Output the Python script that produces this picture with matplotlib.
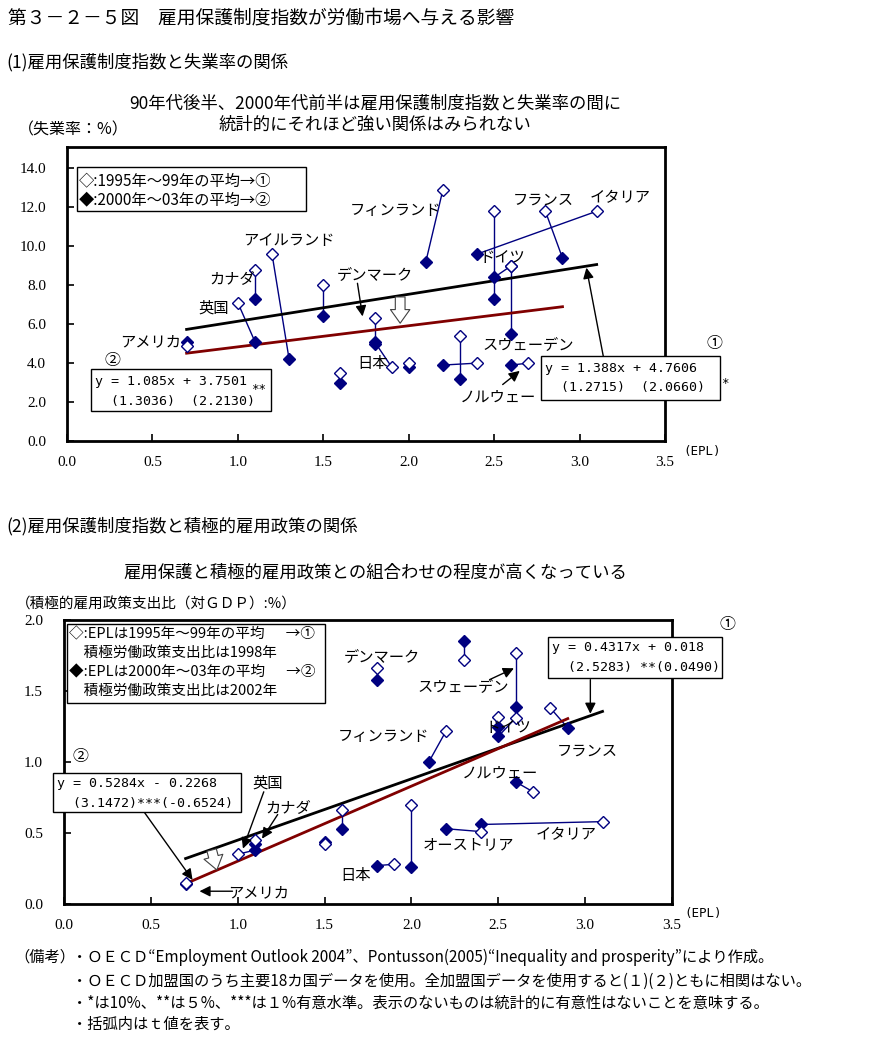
"""
plot.py - 雇用保護制度指数が労働市場へ与える影響 (第3-2-5図)
"""
import numpy as np
import matplotlib
matplotlib.use("Agg")
import matplotlib.pyplot as plt
from matplotlib.patches import Rectangle

plt.rcParams['font.family'] = ['Noto Sans CJK JP', 'DejaVu Sans']

W, H = 878, 1040
NAVY = "#000080"
DRED = "#800000"
JP = ['Noto Sans CJK JP', 'DejaVu Sans']
MONO = ['DejaVu Sans Mono', 'Noto Sans CJK JP']
NUM = ['Liberation Serif', 'DejaVu Serif']

# ---------------------------
# Data (1) EPL vs unemployment rate
# open = 1995-99 average, filled = 2000-03 average
# ---------------------------
u_open_x = [0.7, 1.0, 1.1, 1.2, 1.5, 1.6, 1.8, 1.9, 2.0, 2.3, 2.4, 2.7, 2.6, 2.6, 2.5, 2.2, 2.8, 3.1]
u_open_y = [4.9, 7.1, 8.8, 9.6, 8.0, 3.5, 6.3, 3.8, 4.0, 5.4, 4.0, 4.0, 9.0, 9.0, 11.8, 12.9, 11.8, 11.8]
u_fill_x = [0.7, 1.1, 1.1, 1.3, 1.5, 1.6, 1.8, 1.8, 2.0, 2.3, 2.2, 2.6, 2.6, 2.5, 2.5, 2.1, 2.9, 2.4]
u_fill_y = [5.1, 5.1, 7.3, 4.2, 6.4, 3.0, 5.0, 5.1, 3.8, 3.2, 3.9, 3.9, 5.5, 8.4, 7.3, 9.2, 9.4, 9.6]

# regression lines (slope, intercept, x range)
u_reg1 = (1.388, 4.7606, [0.7, 3.1])
u_reg2 = (1.085, 3.7501, [0.7, 2.9])

# ---------------------------
# Data (2) EPL vs active labour market policy spending (% of GDP)
# ---------------------------
a_open_x = [0.7, 1.0, 1.1, 1.5, 1.6, 1.8, 1.9, 2.0, 2.2, 2.4, 2.3, 3.1, 2.5, 2.6, 2.6, 2.7, 2.8]
a_open_y = [0.15, 0.35, 0.45, 0.42, 0.66, 1.66, 0.28, 0.70, 1.22, 0.51, 1.72, 0.58, 1.32, 1.31, 1.77, 0.79, 1.38]
a_fill_x = [0.7, 1.1, 1.1, 1.5, 1.6, 1.8, 1.8, 2.0, 2.1, 2.2, 2.3, 2.4, 2.5, 2.5, 2.6, 2.6, 2.9]
a_fill_y = [0.14, 0.38, 0.42, 0.44, 0.53, 1.58, 0.27, 0.26, 1.00, 0.53, 1.85, 0.56, 1.25, 1.18, 1.39, 0.86, 1.24]

a_reg1 = (0.4317, 0.018, [0.7, 3.1])
a_reg2 = (0.5284, -0.2268, [0.7, 2.9])

x_ticks = [0.0, 0.5, 1.0, 1.5, 2.0, 2.5, 3.0, 3.5]
u_y_ticks = [0.0, 2.0, 4.0, 6.0, 8.0, 10.0, 12.0, 14.0]
a_y_ticks = [0.0, 0.5, 1.0, 1.5, 2.0]


def fp(x, y):
    """pixel position (from top-left) -> figure fraction"""
    return x / W, 1 - y / H


def ftext(fig, x, y, s, **kw):
    kw.setdefault("family", JP)
    kw.setdefault("fontsize", 10)
    kw.setdefault("va", "center")
    fig.text(*fp(x, y), s, **kw)


def frect(fig, x0, y0, x1, y1):
    fx0, fy1 = fp(x0, y1)
    fig.patches.append(Rectangle((fx0, fy1), (x1 - x0) / W, (y1 - y0) / H,
                                 transform=fig.transFigure, fc="white",
                                 ec="black", lw=1.0, zorder=5))


def scatter_pairs(ax, ox, oy, fx, fy):
    for a, b, c, d in zip(ox, oy, fx, fy):
        ax.plot([a, c], [b, d], color=NAVY, lw=1.0, zorder=2)
    ax.plot(fx, fy, "D", ms=6, mfc=NAVY, mec=NAVY, ls="none", zorder=3)
    ax.plot(ox, oy, "D", ms=6, mfc="white", mec=NAVY, mew=1.0, ls="none", zorder=4)


def reg_line(ax, reg, color):
    slope, icpt, xr = reg
    xs = np.array(xr)
    ax.plot(xs, slope * xs + icpt, color=color, lw=2.0, zorder=2.5)


def style_axes(ax, yticks, fmt):
    for s in ax.spines.values():
        s.set_linewidth(2.0)
    ax.set_xticks(x_ticks)
    ax.set_xticklabels([f"{t:.1f}" for t in x_ticks], family=NUM, fontsize=11)
    ax.set_yticks(yticks)
    ax.set_yticklabels([fmt.format(t) for t in yticks], family=NUM, fontsize=11)
    ax.tick_params(axis="y", direction="in", length=5, width=1.2, pad=15)
    ax.tick_params(axis="x", direction="in", length=5, width=1.2, pad=11)


def label(ax, x, y, s, size=11):
    ax.text(x, y, s, family=JP, fontsize=size, ha="center", va="center", zorder=6)


def arrow(ax, x0, y0, x1, y1):
    ax.annotate("", xy=(x1, y1), xytext=(x0, y0),
                arrowprops=dict(arrowstyle="-|>", color="black", lw=1.0,
                                mutation_scale=16, shrinkA=0, shrinkB=0),
                annotation_clip=False, zorder=7)


def hollow_arrow(ax, x0, y0, x1, y1):
    ax.annotate("", xy=(x1, y1), xytext=(x0, y0),
                arrowprops=dict(arrowstyle="simple,head_width=1.0,head_length=0.7,tail_width=0.5",
                                fc="white", ec="#404040", lw=0.8,
                                mutation_scale=14, shrinkA=0, shrinkB=0),
                zorder=7)


fig = plt.figure(figsize=(W / 100, H / 100), dpi=100)

# ---------------------------
# Headers
# ---------------------------
ftext(fig, 8, 18, "第３－２－５図　雇用保護制度指数が労働市場へ与える影響", fontsize=13.5)
ftext(fig, 6, 62, "(1)雇用保護制度指数と失業率の関係", fontsize=12.5)
ftext(fig, 375, 103, "90年代後半、2000年代前半は雇用保護制度指数と失業率の間に", fontsize=12.5, ha="center")
ftext(fig, 375, 125, "統計的にそれほど強い関係はみられない", fontsize=12.5, ha="center")
ftext(fig, 18, 130, "（失業率：%）", fontsize=11.5)

# ---------------------------
# Chart (1)
# ---------------------------
ax1 = fig.add_axes([67 / W, 1 - 441 / H, 598 / W, 294 / H])
ax1.set_xlim(0, 3.5)
ax1.set_ylim(0, 15.1)
style_axes(ax1, u_y_ticks, "{:.1f}")
reg_line(ax1, u_reg1, "black")
reg_line(ax1, u_reg2, DRED)
scatter_pairs(ax1, u_open_x, u_open_y, u_fill_x, u_fill_y)

label(ax1, 1.92, 11.85, "フィンランド")
label(ax1, 2.79, 12.36, "フランス")
label(ax1, 3.24, 12.5, "イタリア")
label(ax1, 1.30, 10.3, "アイルランド")
label(ax1, 2.55, 9.44, "ドイツ")
label(ax1, 0.97, 8.36, "カナダ")
label(ax1, 1.80, 8.56, "デンマーク")
label(ax1, 0.86, 6.82, "英国")
label(ax1, 0.49, 5.08, "アメリカ")
label(ax1, 1.79, 4.0, "日本")
label(ax1, 2.70, 4.97, "スウェーデン")
label(ax1, 2.52, 2.26, "ノルウェー")
arrow(ax1, 2.55, 2.9, 2.65, 3.6)
arrow(ax1, 1.70, 8.1, 1.73, 6.4)
hollow_arrow(ax1, 1.95, 7.4, 1.95, 6.05)
arrow(ax1, 3.14, 4.3, 3.04, 8.9)

frect(fig, 77, 167, 306, 211)
ftext(fig, 79, 181, "◇:1995年～99年の平均→①", fontsize=11, zorder=6)
ftext(fig, 79, 200, "◆:2000年～03年の平均→②", fontsize=11, zorder=6)

frect(fig, 541, 356, 720, 400)
ftext(fig, 545, 368, "y = 1.388x + 4.7606", family=MONO, fontsize=9.5, zorder=6)
ftext(fig, 545, 388, "  (1.2715)  (2.0660)", family=MONO, fontsize=9.5, zorder=6)
ftext(fig, 721, 383, "*", family=MONO, fontsize=9)
ftext(fig, 707, 344, "①", fontsize=11.5)

frect(fig, 91, 369, 271, 411)
ftext(fig, 95, 381, "y = 1.085x + 3.7501", family=MONO, fontsize=9.5, zorder=6)
ftext(fig, 95, 401, "  (1.3036)  (2.2130)", family=MONO, fontsize=9.5, zorder=6)
ftext(fig, 251, 389, "**", family=MONO, fontsize=9, zorder=6)
ftext(fig, 105, 361, "②", fontsize=11.5)
ftext(fig, 683, 452, "(EPL)", family=MONO, fontsize=9)

# ---------------------------
# Chart (2)
# ---------------------------
ftext(fig, 6, 526, "(2)雇用保護制度指数と積極的雇用政策の関係", fontsize=12.5)
ftext(fig, 375, 573, "雇用保護と積極的雇用政策との組合わせの程度が高くなっている", fontsize=12.5, ha="center")
ftext(fig, 16, 605, "（積極的雇用政策支出比（対ＧＤＰ）:%）", fontsize=10.5)

ax2 = fig.add_axes([64 / W, 1 - 904 / H, 608 / W, 284 / H])
ax2.set_xlim(0, 3.5)
ax2.set_ylim(0, 2.0)
style_axes(ax2, a_y_ticks, "{:.1f}")
reg_line(ax2, a_reg1, "black")
reg_line(ax2, a_reg2, DRED)
scatter_pairs(ax2, a_open_x, a_open_y, a_fill_x, a_fill_y)

label(ax2, 1.83, 1.74, "デンマーク")
label(ax2, 2.30, 1.53, "スウェーデン")
label(ax2, 1.84, 1.18, "フィンランド")
label(ax2, 2.56, 1.24, "ドイツ")
label(ax2, 3.01, 1.08, "フランス")
label(ax2, 2.51, 0.92, "ノルウェー")
label(ax2, 1.17, 0.85, "英国")
label(ax2, 1.29, 0.68, "カナダ")
label(ax2, 2.89, 0.49, "イタリア")
label(ax2, 2.33, 0.42, "オーストリア")
label(ax2, 1.68, 0.20, "日本")
label(ax2, 1.12, 0.08, "アメリカ")
arrow(ax2, 2.45, 1.58, 2.59, 1.66)
arrow(ax2, 1.15, 0.79, 1.03, 0.39)
arrow(ax2, 1.23, 0.63, 1.14, 0.46)
arrow(ax2, 0.97, 0.09, 0.78, 0.09)
hollow_arrow(ax2, 0.85, 0.38, 0.88, 0.24)
arrow(ax2, 3.03, 1.58, 3.03, 1.34)
arrow(ax2, 0.46, 0.65, 0.74, 0.17)

frect(fig, 67, 624, 325, 703)
ftext(fig, 69, 634, "◇:EPLは1995年～99年の平均　  →①", fontsize=10.5, zorder=6)
ftext(fig, 69, 653, "　積極労働政策支出比は1998年", fontsize=10.5, zorder=6)
ftext(fig, 69, 672, "◆:EPLは2000年～03年の平均　  →②", fontsize=10.5, zorder=6)
ftext(fig, 69, 691, "　積極労働政策支出比は2002年", fontsize=10.5, zorder=6)

frect(fig, 548, 637, 722, 678)
ftext(fig, 552, 648, "y = 0.4317x + 0.018", family=MONO, fontsize=9.5, zorder=6)
ftext(fig, 552, 668, "  (2.5283) **(0.0490)", family=MONO, fontsize=9.5, zorder=6)
ftext(fig, 720, 625, "①", fontsize=11.5)

frect(fig, 53, 773, 241, 812)
ftext(fig, 57, 783, "y = 0.5284x - 0.2268", family=MONO, fontsize=9.5, zorder=6)
ftext(fig, 57, 803, "  (3.1472)***(-0.6524)", family=MONO, fontsize=9.5, zorder=6)
ftext(fig, 73, 757, "②", fontsize=11.5)
ftext(fig, 684, 913, "(EPL)", family=MONO, fontsize=9)

# ---------------------------
# Notes
# ---------------------------
ftext(fig, 14, 957, "（備考）", fontsize=11)
ftext(fig, 72, 957, "・ＯＥＣＤ“Employment Outlook 2004”、Pontusson(2005)“Inequality and prosperity”により作成。", fontsize=11)
ftext(fig, 72, 981, "・ＯＥＣＤ加盟国のうち主要18カ国データを使用。全加盟国データを使用すると(１)(２)ともに相関はない。", fontsize=11)
ftext(fig, 72, 1003, "・*は10%、**は５%、***は１%有意水準。表示のないものは統計的に有意性はないことを意味する。", fontsize=11)
ftext(fig, 72, 1024, "・括弧内はｔ値を表す。", fontsize=11)

fig.savefig("out.png", dpi=100)
